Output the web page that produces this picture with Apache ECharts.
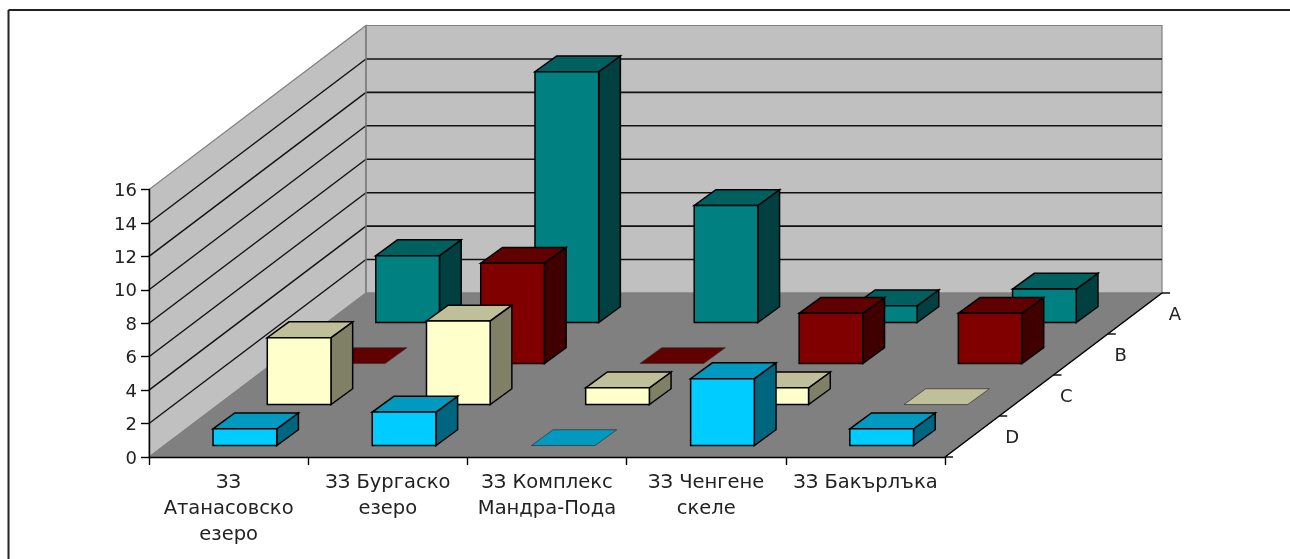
<!DOCTYPE html>
<html><head><meta charset="utf-8">
<style>html,body{margin:0;padding:0;background:#fff;overflow:hidden}#c{width:1290px;height:559px;filter:blur(0.45px)}</style>
<script src="https://cdn.jsdelivr.net/npm/echarts@6/dist/echarts.min.js"></script>
</head><body><div id="c"></div>
<script>
const categories = ['ЗЗ\nАтанасовско\nезеро','ЗЗ Бургаско\nезеро','ЗЗ Комплекс\nМандра-Пода','ЗЗ Ченгене\nскеле','ЗЗ Бакърлъка'];
const depthLabels = ['A','B','C','D'];
const valueTicks = [0,2,4,6,8,10,12,14,16];
const seriesA = [4,15,7,1,2];
const seriesB = [0,6,0,3,3];
const seriesC = [4,5,1,1,0];
const seriesD = [1,2,0,4,1];
const frontColors = ['#008080','#800000','#FFFFCC','#00CCFF'];
const topColors = ['#006060','#600000','#BFBF99','#0099BF'];
const sideColors = ['#004040','#400000','#808066','#006680'];

const FONT = 'DejaVu Sans, Verdana, sans-serif';
const FS = 19.5;
const TXT = '#222';
const DEPTH_X = 217, DEPTH_Y = -164;   // whole floor depth in pixels
const ROWS = depthLabels.length;
const BAR_W = 0.4, GAP_X = 0.30, GAP_Y = 0.28, BAR_DX = 0.40, BAR_DY = 0.385;

function shift2(p, rx, ry){
  return [p[0] + DEPTH_X * rx / ROWS, p[1] + DEPTH_Y * ry / ROWS];
}
function shift(p, r){ return shift2(p, r, r); }
function poly(points, fill, stroke, lw){
  return {type:'polygon', shape:{points}, style:{fill, stroke, lineWidth:lw, lineJoin:'miter'}};
}
function line(a, b, stroke, lw){
  return {type:'line', shape:{x1:a[0],y1:a[1],x2:b[0],y2:b[1]}, style:{stroke, lineWidth:lw}};
}
function renderFrame(params, api){
  const bw = api.size([1,0])[0];
  const n = categories.length;
  const corner = v => { const c = api.coord([0, v]); return [c[0] - bw/2, c[1]]; };
  const cornerR = v => { const c = api.coord([n-1, v]); return [c[0] + bw/2, c[1]]; };
  const maxV = valueTicks[valueTicks.length-1];
  const fl0 = corner(0), fl1 = corner(maxV);
  const fr0 = cornerR(0);
  const bl0 = shift(fl0, ROWS), bl1 = shift(fl1, ROWS), br0 = shift(fr0, ROWS);
  const br1 = shift(cornerR(maxV), ROWS);
  const kids = [];
  kids.push(poly([fl0,fl1,bl1,bl0], '#C0C0C0', '#808080', 1.2));
  kids.push(poly([bl0,bl1,br1,br0], '#C0C0C0', '#808080', 1.2));
  valueTicks.slice(1, -1).forEach(v => {
    const a = corner(v), b = shift(a, ROWS), r = shift(cornerR(v), ROWS);
    kids.push(line(a, b, '#111', 1.4));
    kids.push(line(b, r, '#111', 1.6));
  });
  kids.push(line(bl0, bl1, '#808080', 1.4));
  kids.push(poly([fl0,bl0,br0,fr0], '#808080', '#808080', 1));
  kids.push(line(fr0, br0, '#000', 1.5));
  depthLabels.forEach((lab, i) => {
    const rows = ROWS - i;               // A is the back row
    const p = shift(fr0, rows - 1), e = shift(fr0, rows);
    kids.push(line(e, [e[0]+8, e[1]], '#000', 1.4));
    kids.push({type:'text', style:{text:lab, x:(p[0]+e[0])/2 + 40, y:(p[1]+e[1])/2 + 2,
      fill:TXT, font:'18px '+FONT, textAlign:'center', textVerticalAlign:'middle'}});
  });
  kids.push(line(fr0, [fr0[0]+8, fr0[1]], '#000', 1.4));
  return {type:'group', children:kids};
}
function barRenderer(rowIdx){
  const rowsFromFront = ROWS - 1 - rowIdx;
  return function(params, api){
    const cat = api.value(0), val = api.value(1);
    const bw = api.size([1,0])[0];
    const c0 = api.coord([cat, 0]), c1 = api.coord([cat, val]);
    const l = c0[0] - bw*BAR_W/2, r = c0[0] + bw*BAR_W/2;
    const ox = rowsFromFront + GAP_X, oy = rowsFromFront + GAP_Y;
    const dx = ox + BAR_DX, dy = oy + BAR_DY;
    const fbl = shift2([l,c0[1]], ox, oy), fbr = shift2([r,c0[1]], ox, oy);
    const ftl = shift2([l,c1[1]], ox, oy), ftr = shift2([r,c1[1]], ox, oy);
    const bbr = shift2([r,c0[1]], dx, dy), btl = shift2([l,c1[1]], dx, dy), btr = shift2([r,c1[1]], dx, dy);
    const kids = [];
    if (val === 0) {
      kids.push(poly([ftl,ftr,btr,btl], topColors[rowIdx], 'rgba(50,50,50,.7)', 1));
    } else {
      kids.push(poly([fbr,ftr,btr,bbr], sideColors[rowIdx], '#000', 1.5));
      kids.push(poly([ftl,ftr,btr,btl], topColors[rowIdx], '#000', 1.5));
      kids.push(poly([fbl,fbr,ftr,ftl], frontColors[rowIdx], '#000', 1.5));
    }
    return {type:'group', children:kids};
  };
}
const rows = [seriesA, seriesB, seriesC, seriesD];
const series = [{
  type:'custom', name:'frame', silent:true, clip:false, z:2,
  data:[[0,0]], encode:{x:0,y:1}, renderItem:renderFrame
}];
rows.forEach((vals, i) => series.push({
  type:'custom', name:depthLabels[i], clip:false, z:3+i, silent:true,
  data:vals.map((v,k)=>[k,v]), encode:{x:0,y:1}, renderItem:barRenderer(i)
}));
const chart = echarts.init(document.getElementById('c'), null, {renderer:'canvas', width:1290, height:559});
chart.setOption({
  animation:false,
  backgroundColor:'#fff',
  graphic:[
    {type:'line', shape:{x1:8.5,y1:10,x2:1290,y2:10}, style:{stroke:'#222',lineWidth:2}, silent:true},
    {type:'line', shape:{x1:8.5,y1:10,x2:8.5,y2:559}, style:{stroke:'#222',lineWidth:2}, silent:true}
  ],
  grid:{left:149, right:345, top:189.5, bottom:102, containLabel:false},
  xAxis:{type:'category', data:categories, z:20,
    axisLine:{lineStyle:{color:'#000',width:1.4}},
    axisTick:{show:true, alignWithLabel:false, length:8, lineStyle:{color:'#000',width:1.4}},
    axisLabel:{interval:0, color:TXT, fontFamily:FONT, fontSize:FS, lineHeight:26, margin:13},
    splitLine:{show:false}},
  yAxis:{type:'value', min:0, max:16, interval:2, z:20,
    axisLine:{show:true, lineStyle:{color:'#000',width:1.4}},
    axisTick:{show:true, length:8, lineStyle:{color:'#000',width:1.4}},
    axisLabel:{color:TXT, fontFamily:FONT, fontSize:18, margin:12, verticalAlign:'top', lineHeight:4},
    splitLine:{show:false}},
  series
});
</script></body></html>
